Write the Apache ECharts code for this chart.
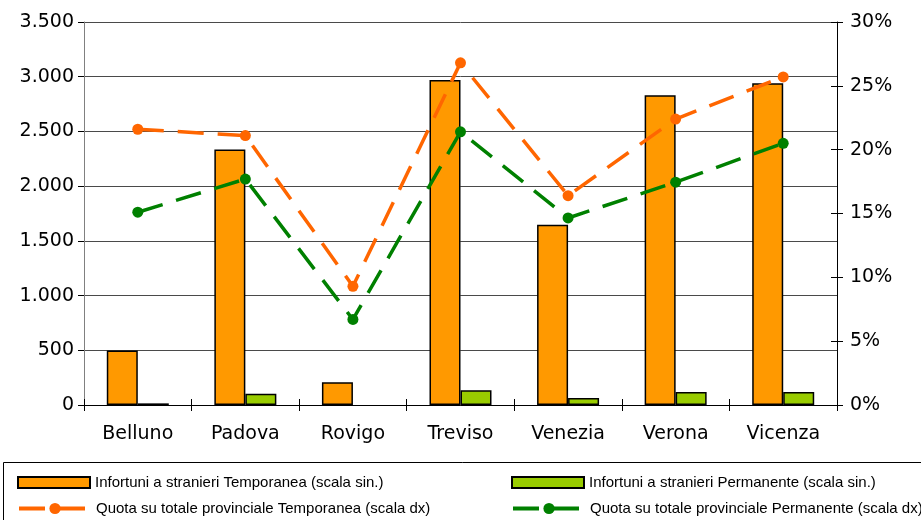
<!DOCTYPE html>
<html>
<head>
<meta charset="utf-8">
<script src="https://cdn.jsdelivr.net/npm/echarts@6/dist/echarts.min.js"></script>
<style>
html,body{margin:0;padding:0;background:#fff;}
#c{width:921px;height:520px;}
</style>
</head>
<body>
<div id="c"></div>
<script>
const categories = ['Belluno','Padova','Rovigo','Treviso','Venezia','Verona','Vicenza'];
const infTemporanea = [497, 2334, 208, 2970, 1648, 2830, 2940];
const infPermanente = [15, 103, null, 134, 64, 119, 119];
const quotaTemporanea = [21.6, 21.1, 9.3, 26.8, 16.4, 22.4, 25.7];
const quotaPermanente = [15.1, 17.7, 6.7, 21.4, 14.65, 17.45, 20.5];
const seriesNames = [
  'Infortuni a stranieri Temporanea (scala sin.)',
  'Infortuni a stranieri Permanente (scala sin.)',
  'Quota su totale provinciale Temporanea (scala dx)',
  'Quota su totale provinciale Permanente (scala dx)'
];

const chart = echarts.init(document.getElementById('c'), null, {renderer:'canvas'});
const axisFont = {fontFamily:'DejaVu Sans', fontSize:19, color:'#000'};
const legendText = {fontFamily:'Liberation Sans', fontSize:15, color:'#000'};

function legendAt(name, left, top, w, h, icon){
  const o = {
    data:[name], left:left, top:top, itemWidth:w, itemHeight:h, itemGap:0,
    padding:0, textStyle:legendText, selectedMode:false,
    lineStyle:{width:4}
  };
  if (icon) o.icon = icon;
  return o;
}

chart.setOption({
  animation:false,
  backgroundColor:'#fff',
  grid:{left:84, right:84, top:22, bottom:115, containLabel:false},
  legend:[
    legendAt(seriesNames[0], 17, 475, 72, 11, 'rect'),
    legendAt(seriesNames[1], 511, 475, 72, 11, 'rect'),
    legendAt(seriesNames[2], 17, 501, 72, 14),
    legendAt(seriesNames[3], 511, 501, 72, 14)
  ],
  graphic:[{
    type:'rect', shape:{x:3.5, y:462.5, width:940, height:80},
    style:{fill:'none', stroke:'#000', lineWidth:1}, silent:true
  }],
  xAxis:[{
    type:'category', data:categories, position:'bottom',
    axisLine:{lineStyle:{color:'#000', width:1}},
    axisTick:{show:true, length:6, inside:false, lineStyle:{color:'#000'}},
    axisLabel:Object.assign({margin:20}, axisFont),
    splitLine:{show:false}
  },{
    type:'category', data:categories, position:'bottom',
    axisLine:{show:false},
    axisTick:{show:true, length:6, inside:true, lineStyle:{color:'#000'}},
    axisLabel:{show:false}, splitLine:{show:false}
  }],
  yAxis:[{
    type:'value', min:0, max:3500, interval:500, position:'left',
    axisLine:{show:true, lineStyle:{color:'#808080', width:1}},
    axisTick:{show:true, length:6, lineStyle:{color:'#000'}},
    axisLabel:Object.assign({margin:10, formatter:function(v){return v.toString().replace(/\B(?=(\d{3})+(?!\d))/g,'.');}}, axisFont),
    splitLine:{show:true, lineStyle:{color:'#4a4a4a', width:1}}
  },{
    type:'value', min:0, max:30, interval:5, position:'right',
    axisLine:{show:true, lineStyle:{color:'#000', width:1}},
    axisTick:{show:true, length:6, lineStyle:{color:'#000'}},
    axisLabel:Object.assign({margin:13, formatter:'{value}%'}, axisFont),
    splitLine:{show:false}
  },{
    type:'value', min:0, max:30, interval:5, position:'right',
    axisLine:{show:false},
    axisTick:{show:true, length:6, inside:true, lineStyle:{color:'#000'}},
    axisLabel:{show:false}, splitLine:{show:false}
  }],
  series:[{
    name:seriesNames[0], type:'bar', data:infTemporanea, xAxisIndex:0, yAxisIndex:0,
    barWidth:31, barGap:'0%',
    itemStyle:{color:'#FF9900', borderColor:'#000', borderWidth:1.5}
  },{
    name:seriesNames[1], type:'bar', data:infPermanente, xAxisIndex:0, yAxisIndex:0,
    barWidth:31, barGap:'0%',
    itemStyle:{color:'#99CC00', borderColor:'#000', borderWidth:1.5}
  },{
    name:seriesNames[2], type:'line', data:quotaTemporanea, xAxisIndex:0, yAxisIndex:1,
    symbol:'circle', symbolSize:11,
    lineStyle:{color:'#FF6600', width:3.5, type:[26,14]},
    itemStyle:{color:'#FF6600'}
  },{
    name:seriesNames[3], type:'line', data:quotaPermanente, xAxisIndex:0, yAxisIndex:1,
    symbol:'circle', symbolSize:11,
    lineStyle:{color:'#008000', width:3.5, type:[26,14]},
    itemStyle:{color:'#008000'}
  }]
});
</script>
</body>
</html>
